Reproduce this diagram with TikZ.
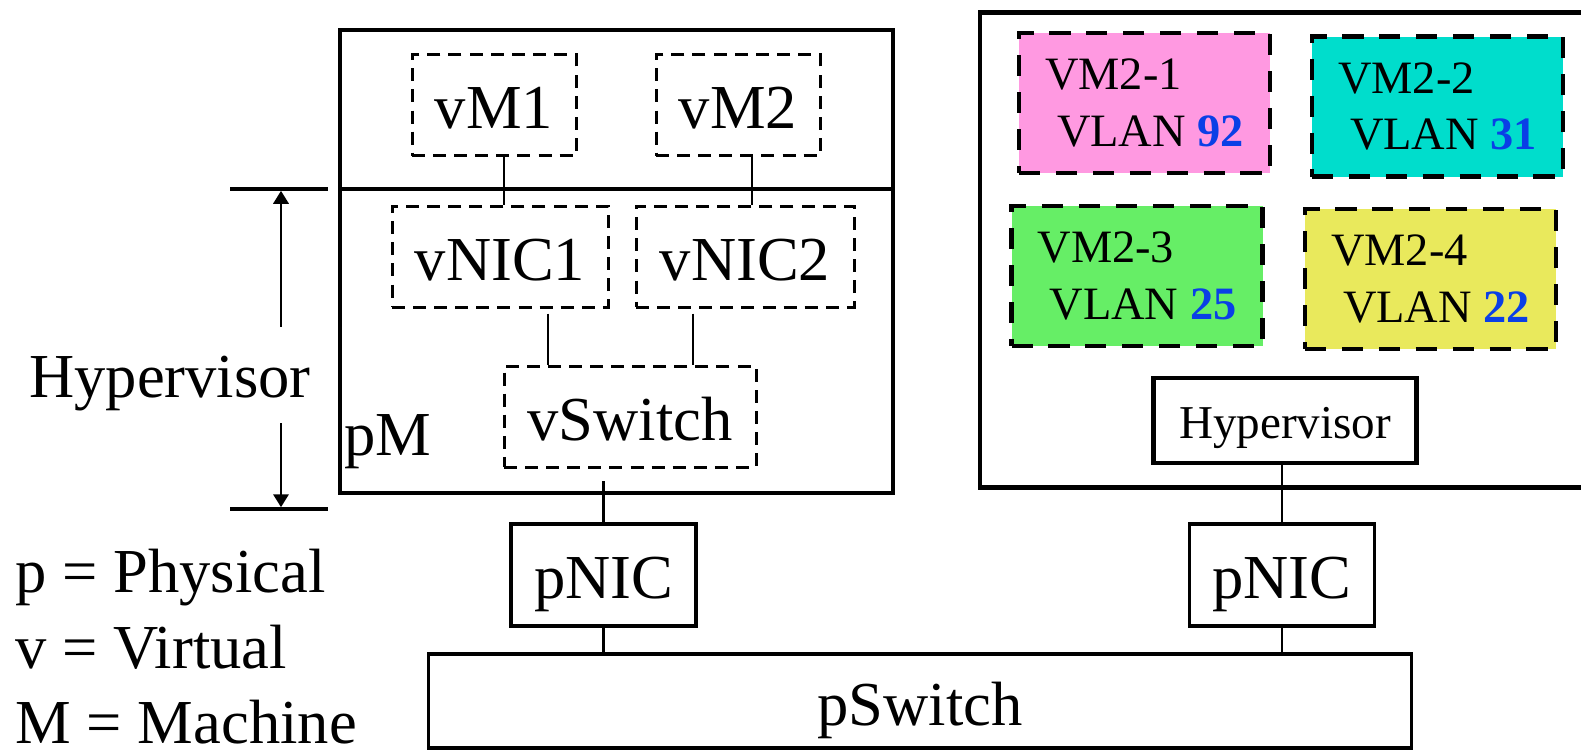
\documentclass[tikz,border=0pt]{standalone}
\usepackage{fontspec}
\setmainfont{Liberation Serif}
\usepackage{xcolor}
\usepackage{tikz}
\usetikzlibrary{arrows.meta, positioning, calc}
\definecolor{vmPink}{HTML}{FF99E1}
\definecolor{vmCyan}{HTML}{00DDCC}
\definecolor{vmGreen}{HTML}{66EE66}
\definecolor{vmYellow}{HTML}{E9E95C}
\definecolor{vlanBlue}{HTML}{0A3FE6}

\begin{document}
\begin{tikzpicture}[
  x=0.1mm, y=-0.1mm,
  font=\fontsize{17.8}{21}\selectfont,
  every node/.style={align=center, inner sep=0pt},
  hostbox/.style={rectangle, draw, line width=0.95pt, text height=13.5pt, text depth=0pt},
  thickbox/.style={rectangle, draw, line width=1.3pt},
  virtbox/.style={rectangle, draw, line width=0.85pt, dash pattern=on 3.7pt off 2.3pt,
    text height=13.5pt, text depth=0pt},
  vmbox/.style={rectangle, draw, line width=1.35pt, dash pattern=on 6pt off 4.5pt,
    minimum width=25.1mm, minimum height=14mm, align=left,
    font=\fontsize{13.2}{16.2}\selectfont},
  wire/.style={line width=0.75pt},
  tick/.style={line width=1pt},
  dimarrow/.style={-{Triangle[length=3.7pt, width=4.3pt]}, line width=0.85pt},
]
  \useasboundingbox (0,0) rectangle (1581,749);

  % physical machine with two guests
  \node[hostbox, minimum width=55.3mm, minimum height=46.3mm] (pM) at (616.5,261.5) {};
  \node[anchor=base west] (pMlabel) at (344,455) {pM};
  \node[virtbox, minimum width=16.4mm, minimum height=10.1mm] (vM1) at (494,105) {vM1};
  \node[virtbox, minimum width=16.4mm, minimum height=10.1mm] (vM2) at (738,105) {vM2};
  \node[virtbox, minimum width=21.6mm, minimum height=10.1mm] (vNIC1) at (500,256.5) {vNIC1};
  \node[virtbox, minimum width=21.8mm, minimum height=10.1mm] (vNIC2) at (745,256.5) {vNIC2};
  \node[virtbox, minimum width=25.2mm, minimum height=10.1mm] (vSwitch) at (630,416.5) {vSwitch};
  \draw[hostbox] (pM.west |- 0,189) -- (pM.east |- 0,189);

  % hypervisor dimension
  \coordinate (hvTop) at (281,189);
  \coordinate (hvBot) at (281,509);
  \node[anchor=base] (hvLabel) at (170,397) {Hypervisor};
  \draw[tick] ($(hvTop)+(-51,0)$) -- ($(hvTop)+(47,0)$);
  \draw[tick] ($(hvBot)+(-51,0)$) -- ($(hvBot)+(47,0)$);
  \draw[dimarrow] ($(hvLabel.north -| hvTop)+(0,-28)$) -- ([yshift=-0.5pt]hvTop);
  \draw[dimarrow] ($(hvLabel.south -| hvBot)+(0,12)$) -- ([yshift=0.5pt]hvBot);

  % second physical machine
  \node[thickbox, minimum width=62mm, minimum height=47.5mm] (host2) at (1290,250) {};
  \node[vmbox, fill=vmPink] (vm21) at (1144.5,103)
    {VM2-1\\\hspace*{0.26em}VLAN \textbf{\textcolor{vlanBlue}{92}}};
  \node[vmbox, fill=vmCyan] (vm22) at (1437.5,106.5)
    {VM2-2\\\hspace*{0.26em}VLAN \textbf{\textcolor{vlanBlue}{31}}};
  \node[vmbox, fill=vmGreen] (vm23) at (1137,276)
    {VM2-3\\\hspace*{0.26em}VLAN \textbf{\textcolor{vlanBlue}{25}}};
  \node[vmbox, fill=vmYellow] (vm24) at (1430.5,279)
    {VM2-4\\\hspace*{0.26em}VLAN \textbf{\textcolor{vlanBlue}{22}}};
  \node[thickbox, minimum width=26.3mm, minimum height=8.5mm, text height=10.2pt, text depth=0pt,
    font=\fontsize{13.4}{16}\selectfont] (hyp2) at (1285,420.5) {Hypervisor};

  % physical network
  \node[hostbox, minimum width=18.5mm, minimum height=10.2mm] (pNIC1) at (603.5,575) {pNIC};
  \node[hostbox, minimum width=18.5mm, minimum height=10.2mm] (pNIC2) at (1282,575) {pNIC};
  \node[hostbox, minimum width=98.3mm, minimum height=9.4mm, text height=13.9pt] (pSwitch) at (920,701) {pSwitch};

  % legend
  \node[anchor=base west] (legP) at (15,592) {p = Physical};
  \node[anchor=base west] (legV) at (15,668) {v = Virtual};
  \node[anchor=base west] (legM) at (15,743) {M = Machine};

  \coordinate (vmTap1) at ($(vM1.south)+(10,0)$);
  \coordinate (vmTap2) at ($(vM2.south)+(14,0)$);
  \coordinate (tap1) at ($(vNIC1.south)+(48,5)$);
  \coordinate (tap2) at ($(vNIC2.south)+(-52,5)$);
  \coordinate (tapSw) at ($(vSwitch.south)+(-24,12)$);
  \draw[wire] (vmTap1) -- (vmTap1 |- vNIC1.north);
  \draw[wire] (vmTap2) -- (vmTap2 |- vNIC2.north);
  \draw[wire] (tap1) -- (tap1 |- vSwitch.north);
  \draw[wire] (tap2) -- (tap2 |- vSwitch.north);
  \draw[wire] (pNIC1.north) -- (pNIC1.north |- tapSw);
  \draw[wire] (pNIC2.north) -- (pNIC2.north |- hyp2.south);
  \draw[wire] (pNIC1.south) -- (pNIC1.south |- pSwitch.north);
  \draw[wire] (pNIC2.south) -- (pNIC2.south |- pSwitch.north);
\end{tikzpicture}
\end{document}
